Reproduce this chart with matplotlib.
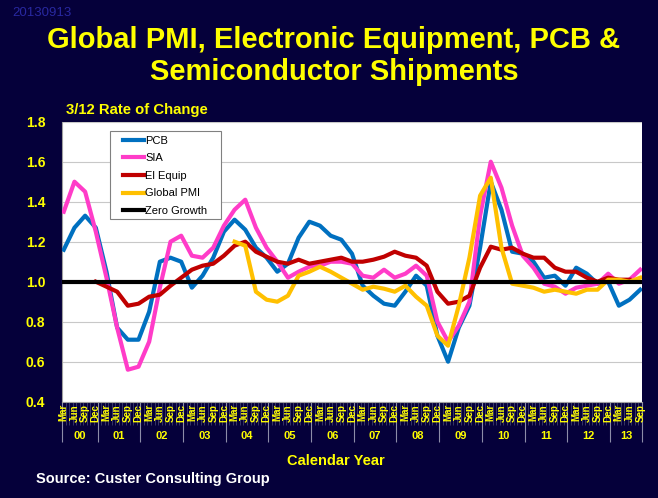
import numpy as np
import pandas as pd
import matplotlib
matplotlib.use("Agg")
import matplotlib.pyplot as plt
from matplotlib.patches import Rectangle

# quarterly readings, Mar 2000 .. Sep 2013 (3/12 rate of change)
quarters = pd.date_range("2000-03-01", "2013-09-01", freq="3MS")

pcb = [1.16, 1.27, 1.33, 1.27, 1.05, 0.77, 0.71, 0.71, 0.85, 1.10, 1.12, 1.10,
       0.97, 1.03, 1.12, 1.25, 1.31, 1.26, 1.17, 1.12, 1.05, 1.09, 1.22, 1.30,
       1.28, 1.23, 1.21, 1.14, 0.98, 0.93, 0.89, 0.88, 0.95, 1.03, 0.98, 0.73,
       0.60, 0.77, 0.88, 1.17, 1.50, 1.36, 1.15, 1.14, 1.10, 1.02, 1.03, 0.98,
       1.07, 1.04, 0.99, 1.00, 0.88, 0.91, 0.96]
sia = [1.35, 1.50, 1.45, 1.25, 1.02, 0.77, 0.56, 0.575, 0.70, 0.97, 1.20, 1.23,
       1.13, 1.12, 1.17, 1.28, 1.36, 1.41, 1.27, 1.17, 1.10, 1.02, 1.05, 1.075,
       1.08, 1.10, 1.10, 1.09, 1.03, 1.02, 1.06, 1.02, 1.04, 1.08, 1.03, 0.80,
       0.70, 0.78, 0.90, 1.33, 1.60, 1.47, 1.28, 1.13, 1.07, 0.99, 0.975, 0.94,
       0.97, 0.98, 0.99, 1.04, 0.99, 1.01, 1.06]
el_equip = [np.nan, np.nan, np.nan, 1.00, 0.975, 0.95, 0.88, 0.89, 0.925, 0.935,
            0.98, 1.02, 1.06, 1.08, 1.09, 1.13, 1.18, 1.20, 1.15, 1.125, 1.10,
            1.09, 1.11, 1.09, 1.10, 1.11, 1.12, 1.10, 1.10, 1.11, 1.125, 1.15,
            1.13, 1.12, 1.08, 0.95, 0.89, 0.90, 0.93, 1.07, 1.175, 1.16, 1.17,
            1.14, 1.12, 1.12, 1.07, 1.05, 1.05, 1.02, 1.00, 1.02, 1.01, 1.01, np.nan]
global_pmi = [np.nan] * 16 + [
    1.20, 1.18, 0.95, 0.91, 0.90, 0.93, 1.03, 1.05, 1.075, 1.05, 1.02, 0.99,
    0.96, 0.975, 0.965, 0.95, 0.98, 0.925, 0.88, 0.73, 0.68, 0.88, 1.12, 1.43,
    1.52, 1.17, 0.99, 0.98, 0.97, 0.95, 0.96, 0.95, 0.94, 0.96, 0.96, 1.01,
    1.01, 1.00, 1.02]
zero_growth = 1.0

month_names = {3: "Mar", 6: "Jun", 9: "Sep", 12: "Dec"}
years = list(range(2000, 2014))

NAVY = "#05003a"
YELLOW = "#ffff00"
plt.rcParams["font.family"] = ["Liberation Sans", "DejaVu Sans"]

W, H = 658, 498
fig = plt.figure(figsize=(W / 100, H / 100), dpi=100, facecolor=NAVY)
ax = fig.add_axes([62 / W, (H - 401.7) / H, 580 / W, 280 / H])
ax.set_facecolor("white")

# month index since Mar 2000
idx = (quarters.year - 2000) * 12 + quarters.month - 3
n_months = idx[-1] + 1

ax.plot(idx, pcb, color="#0070c0", lw=3, label="PCB", zorder=3)
ax.plot(idx, sia, color="#ff3cc8", lw=3, label="SIA", zorder=4)
ax.plot(idx, el_equip, color="#c00000", lw=3, label="El Equip", zorder=5)
ax.plot(idx, global_pmi, color="#ffc000", lw=3, label="Global PMI", zorder=6)
ax.axhline(zero_growth, color="black", lw=3, label="Zero Growth", zorder=7)

ax.set_xlim(-0.5, n_months - 0.5)
ax.set_ylim(0.4, 1.8)
ax.set_yticks(np.arange(0.4, 1.81, 0.2))
ax.set_yticklabels([f"{v:.1f}" for v in np.arange(0.4, 1.81, 0.2)])
ax.tick_params(axis="y", length=0, pad=12, labelsize=10, labelcolor=YELLOW)
for t in ax.get_yticklabels():
    t.set_fontweight("bold")
ax.grid(axis="y", color="#c8c8c8", lw=0.8, zorder=1)

for s in ["top", "right"]:
    ax.spines[s].set_visible(False)
for s in ["left", "bottom"]:
    ax.spines[s].set_color("#a0a0a0")

# category axis: month boundaries and year boundaries
year_edges = [12 * (y - 2000) - 2.5 for y in years[1:]]
edges = [-0.5] + year_edges + [n_months - 0.5]
ax.set_xticks(edges)
ax.set_xticks(np.arange(-0.5, n_months, 1.0), minor=True)
ax.tick_params(axis="x", which="major", length=29, width=0.8, color="#8c8ca8",
               labelbottom=False)
ax.tick_params(axis="x", which="minor", length=16.5, width=0.5, color="#4c4c78")

xt = ax.get_xaxis_transform()
for d, i in zip(quarters, idx):
    ax.text(i, -0.009, month_names[d.month], transform=xt, rotation=90,
            ha="center", va="top", fontsize=7, fontweight="bold", color=YELLOW)
for k, y in enumerate(years):
    ax.text((edges[k] + edges[k + 1]) / 2, -0.123, f"{y % 100:02d}", transform=xt,
            ha="center", va="center", fontsize=8, fontweight="bold", color=YELLOW)

# legend box drawn by hand so the padding matches the original
ax.add_patch(Rectangle(((110 - 62) / 580, (401.7 - 219) / 280), 111 / 580, 88 / 280,
                       transform=ax.transAxes, facecolor="white", edgecolor="#808080",
                       lw=0.8, zorder=9))
leg = ax.legend(loc="upper left", bbox_to_anchor=((123 - 62) / 580, (401.7 - 135.5) / 280),
                borderaxespad=0, borderpad=0, fontsize=8, handlelength=1.9,
                handletextpad=0.1, labelspacing=0.69, frameon=False)
leg.set_zorder(10)


def fx(x):
    return x / W


def fy(y):
    return 1 - y / H


fig.text(fx(12), fy(13), "20130913", fontsize=9.5, color="#2828a0", ha="left", va="center")
fig.text(fx(334), fy(40), "Global PMI, Electronic Equipment, PCB &", fontsize=21,
         fontweight="bold", color=YELLOW, ha="center", va="center")
fig.text(fx(334), fy(72), "Semiconductor Shipments", fontsize=21,
         fontweight="bold", color=YELLOW, ha="center", va="center")
fig.text(fx(66), fy(110), "3/12 Rate of Change", fontsize=10.7, fontweight="bold",
         color=YELLOW, ha="left", va="center")
fig.text(fx(336), fy(461), "Calendar Year", fontsize=10.5, fontweight="bold",
         color=YELLOW, ha="center", va="center")
fig.text(fx(36), fy(479), "Source: Custer Consulting Group", fontsize=10.5,
         fontweight="bold", color="white", ha="left", va="center")

fig.savefig("out.png", dpi=100, facecolor=NAVY)
